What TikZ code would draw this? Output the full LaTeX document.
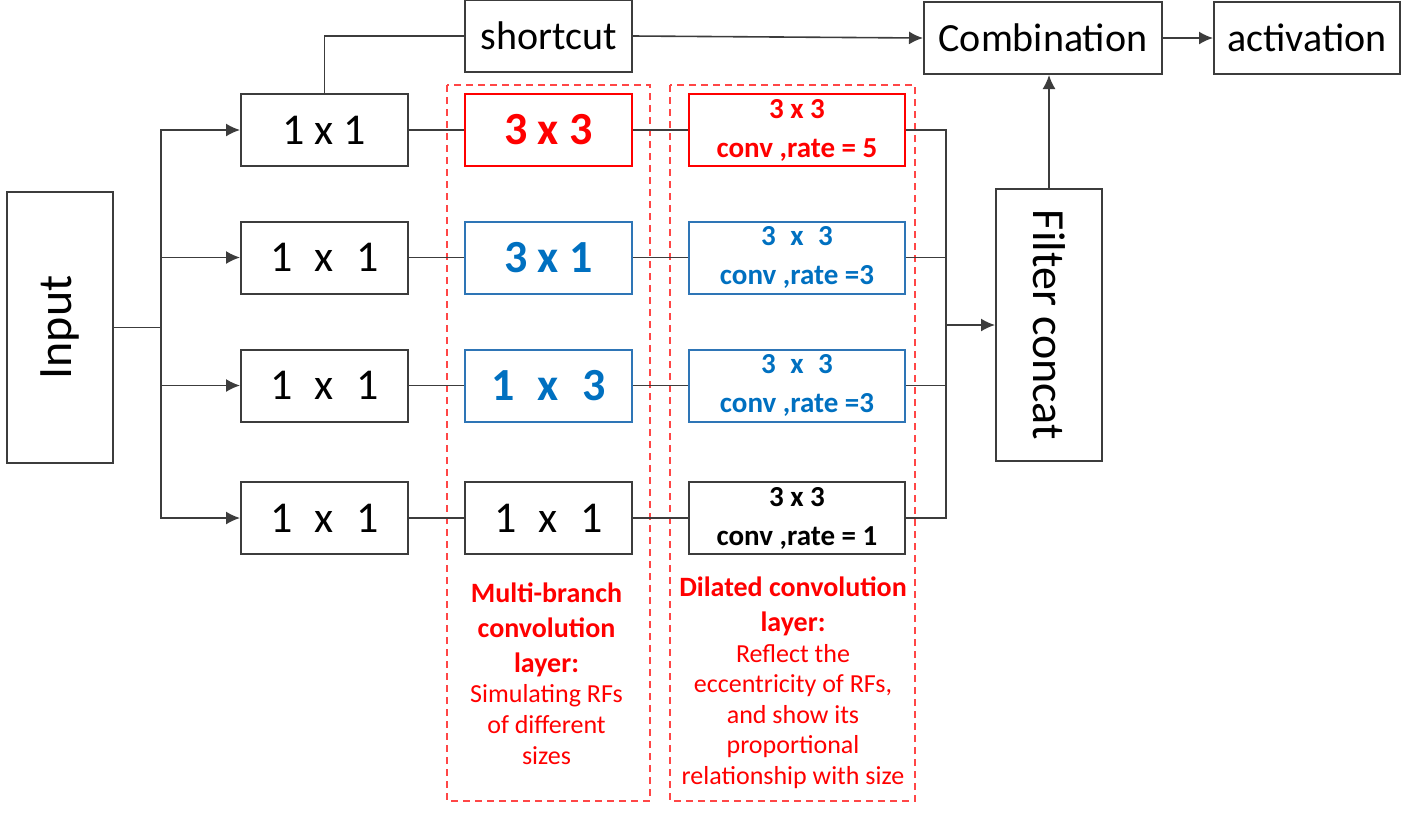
\documentclass[tikz,border=0pt]{standalone}
\usepackage{fontspec}
\setmainfont{Carlito}
\usepackage{graphicx}
\usepackage{xcolor}
\usetikzlibrary{positioning,arrows.meta}

\definecolor{netred}{RGB}{255,0,0}
\definecolor{netblue}{RGB}{0,112,192}
\definecolor{blueline}{RGB}{46,117,182}
\definecolor{grpred}{RGB}{255,70,70}
\definecolor{linegray}{RGB}{60,60,60}

\tikzset{
  block/.style={draw=linegray, line width=1pt, minimum width=83.5pt, minimum height=36pt,
    inner sep=0pt, font=\fontsize{22}{26}\selectfont},
  redblock/.style={block, draw=netred, text=netred, font=\fontsize{23}{27}\selectfont\bfseries},
  blueblock/.style={block, draw=blueline, text=netblue, font=\fontsize{23}{27}\selectfont\bfseries},
  ratebox/.style={block, minimum width=108pt, align=center, font=\fontsize{14.5}{19.5}\selectfont\bfseries},
  tallbox/.style={block, minimum width=53pt, minimum height=135.5pt},
  topbox/.style={block, font=\fontsize{20}{24}\selectfont},
  conn/.style={draw=linegray, line width=0.8pt},
  arr/.style={conn, -{Latex[length=7pt,width=6.5pt]}},
  group/.style={draw=grpred, line width=0.8pt, dash pattern=on 3.5pt off 2.5pt},
  note/.style={text=netred, align=center, inner sep=0pt},
}

\begin{document}
\begin{tikzpicture}[x=0.5pt, y=-0.5pt, node distance=27.5pt]
        \useasboundingbox (0,0) rectangle (1418,816);

        % NODES
        % -----------------

        \node[tallbox] (input) at (60,327.5) {\rotatebox{90}{\fontsize{24}{28}\selectfont Input}};

        % 1x1 reduction column
        \node[block] (a1) at (324.5,130)   {1 x 1};
        \node[block] (a2) at (324.5,257.5) {1\hspace{0.5em}x\hspace{0.5em}1};
        \node[block] (a3) at (324.5,385.5) {1\hspace{0.5em}x\hspace{0.5em}1};
        \node[block] (a4) at (324.5,518)   {1\hspace{0.5em}x\hspace{0.5em}1};

        % multi-branch column
        \node[redblock, right=of a1]  (m1) {3 x 3};
        \node[blueblock, right=of a2] (m2) {3 x 1};
        \node[blueblock, right=of a3] (m3) {1\hspace{0.5em}x\hspace{0.5em}3};
        \node[block, right=of a4]     (m4) {1\hspace{0.5em}x\hspace{0.5em}1};

        % dilated column
        \node[ratebox, draw=netred, text=netred, right=of m1] (r1) {3 x 3\\conv ,rate = 5};
        \node[ratebox, draw=blueline, text=netblue, right=of m2] (r2) {3\hspace{0.5em}x\hspace{0.5em}3\\conv ,rate =3};
        \node[ratebox, draw=blueline, text=netblue, right=of m3] (r3) {3\hspace{0.5em}x\hspace{0.5em}3\\conv ,rate =3};
        \node[ratebox, right=of m4] (r4) {3 x 3\\conv ,rate = 1};

        \node[topbox, above=10pt of m1] (shortcut) {shortcut};
        \node[topbox, minimum width=119pt] (comb) at (1043,38) {Combination};
        \node[topbox, minimum width=93pt, right=25pt of comb] (act) {activation};
        \node[tallbox, minimum height=136pt] (concat) at (1049,325)
          {\rotatebox{-90}{\fontsize{23}{27}\selectfont Filter concat}};

        % LAYER NOTES
        % -----------------

        \node[note, font=\fontsize{14}{17.5}\selectfont\bfseries, anchor=north] (mtitle) at (546.5,582)
          {Multi-branch\\convolution\\layer:};
        \node[note, font=\fontsize{13}{15.5}\selectfont, below=3.5pt of mtitle] (mdesc)
          {Simulating RFs\\of different\\sizes};
        \node[note, font=\fontsize{14}{17.5}\selectfont\bfseries, anchor=north] (rtitle) at (793,576)
          {Dilated convolution\\layer:};
        \node[note, font=\fontsize{13}{15.25}\selectfont, below=4pt of rtitle] (rdesc)
          {Reflect the\\eccentricity of RFs,\\and show its\\proportional\\relationship with size};

        \draw[group] (447,85) rectangle (650,801);
        \draw[group] (670,85) rectangle (915,801);

        % EDGES
        % -----------------

        \coordinate (split) at (161,327.5);
        \coordinate (cat) at (946,325);

        \draw[conn] (input.east) -- (split);
        \foreach \n in {a1,a2,a3,a4}
          \draw[arr] (split) |- (\n.west);

        \foreach \i in {1,...,4} {
          \draw[conn] (a\i.east) -- (m\i.west);
          \draw[conn] (m\i.east) -- (r\i.west);
        }

        \draw[conn] (r1.east) -| (cat);
        \draw[conn] (r4.east) -| (cat);
        \draw[conn] (r2.east) -- (r2.east -| cat);
        \draw[conn] (r3.east) -- (r3.east -| cat);
        \draw[arr] (cat) -- (concat.west);

        \draw[conn] (a1.north) |- (shortcut.west);
        \draw[arr] (shortcut.east) -- (comb.west);
        \draw[arr] (comb.east) -- (act.west);
        \draw[arr] (concat.north) -- (concat.north |- comb.south);

\end{tikzpicture}
\end{document}
